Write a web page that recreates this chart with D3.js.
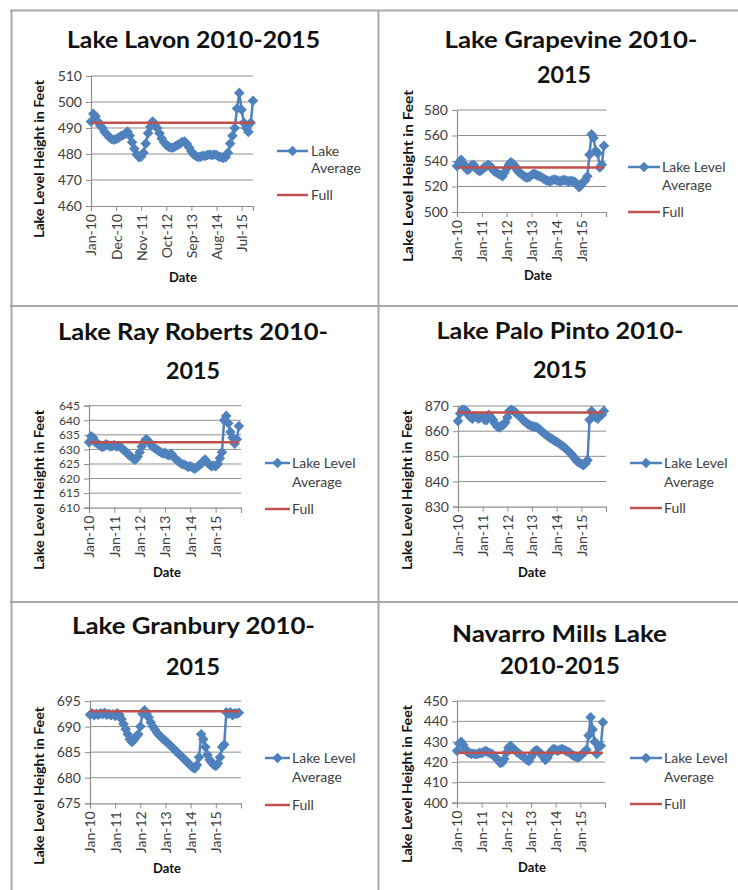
<!DOCTYPE html>
<html>
<head>
<meta charset="utf-8">
<script src="https://cdn.jsdelivr.net/npm/d3@7"></script>
<style>
body { margin: 0; background: #fff; }
svg { display: block; font-family: Lato, "Open Sans", sans-serif; }
</style>
</head>
<body>
<svg id="chart" width="738" height="890"></svg>
<script>
// ---- data (monthly averages, Jan 2010 - Dec 2015) ----
var titles = [
    ["Lake Lavon 2010-2015"],
    ["Lake Grapevine 2010-", "2015"],
    ["Lake Ray Roberts 2010-", "2015"],
    ["Lake Palo Pinto 2010-", "2015"],
    ["Lake Granbury 2010-", "2015"],
    ["Navarro Mills Lake", "2010-2015"]
];
var legendNames = [["Lake", "Average"], ["Lake Level", "Average"], ["Lake Level", "Average"],
                   ["Lake Level", "Average"], ["Lake Level", "Average"], ["Lake Level", "Average"]];
var fullName = "Full";
var yTitle = "Lake Level Height in Feet";
var xTitle = "Date";

var fullLevels = [492, 535, 632.5, 867.4, 693, 424.5];

var yTicks = [
    [460, 470, 480, 490, 500, 510],
    [500, 520, 540, 560, 580],
    [610, 615, 620, 625, 630, 635, 640, 645],
    [830, 840, 850, 860, 870],
    [675, 680, 685, 690, 695],
    [400, 410, 420, 430, 440, 450]
];
var lavonTicks = ["Jan-10", "Dec-10", "Nov-11", "Oct-12", "Sep-13", "Aug-14", "Jul-15"];
var yearTicks = ["Jan-10", "Jan-11", "Jan-12", "Jan-13", "Jan-14", "Jan-15", ""];

var lavon = [492.5, 495.5, 494.5, 492.5, 491, 490, 488.5, 487.5, 486.5, 485.8, 485.5, 485.8,
             486.2, 486.8, 487.2, 487.8, 488.6, 487, 484.5, 482, 479.8, 478.8, 479, 480.5,
             484, 488, 490.5, 492.5, 491.5, 490, 488, 486, 484.5, 483.5, 482.8, 482.5,
             482.4, 483, 483.5, 484, 484.6, 484.8, 483.8, 482.5, 481, 479.8, 479.2, 478.8,
             479, 479.3, 479.2, 479.6, 479.8, 479.5, 479.8, 479.6, 479, 478.8, 478.5, 478.8,
             480.5, 484, 487, 490, 497.5, 503.5, 497, 492, 490, 488.5, 492, 500.5];
var grapevine = [536, 539, 541, 538, 535, 533, 534, 536.5, 537, 534.5, 533, 532,
                 533, 535, 535.5, 537, 536, 534, 532, 531, 530, 529, 528, 531,
                 534, 537, 539, 538, 536, 533, 531, 530, 528.5, 527.5, 527, 527.5,
                 529, 530, 529.5, 528.5, 528, 527, 526, 525, 524.5, 524, 525, 525.5,
                 525, 524.5, 524, 525, 525, 524.5, 524, 524.5, 524, 523.5, 522, 519.5,
                 521, 523.5, 525, 528, 545, 561, 558, 548, 546, 535, 537, 552];
var rayRoberts = [632.5, 634.5, 634, 632.5, 632, 631.5, 630.8, 631, 631.8, 631.5, 631, 631.2,
                  631.5, 631, 631.2, 630.8, 630, 629.5, 628.8, 628, 627.5, 626.8, 626.5, 627.5,
                  629, 631, 632.5, 633.5, 633, 632, 631, 630.5, 630, 629.5, 629, 628.6,
                  628.8, 628.2, 628, 628.5, 627.5, 626.8, 626, 625.5, 625, 624.8, 624.5, 624,
                  624.2, 623.8, 623.4, 623.8, 624.5, 625, 625.8, 626.5, 625.5, 624.8, 624.2, 624.5,
                  624.2, 625, 627, 629, 640, 641.5, 639, 636, 634, 632, 633.5, 638];
var paloPinto = [864, 867, 868.5, 868.5, 868, 866.5, 865.5, 865, 866, 865.5, 865, 865.5,
                 865.5, 864.5, 864.5, 866.5, 865.5, 864.5, 863, 862, 861.5, 862, 862.5, 863.5,
                 865.5, 868, 868.5, 868, 867.5, 866.5, 866, 865, 864.2, 863.5, 862.8, 862.3,
                 862, 861.8, 861.6, 861.2, 860.5, 859.8, 859, 858.5, 857.8, 857.2, 856.8, 856.2,
                 855.8, 855.2, 854.6, 854, 853.4, 852.6, 851.8, 851, 850, 849, 848, 847.5,
                 847, 846.5, 847.2, 848.5, 864.5, 868, 866.5, 865.5, 865, 866, 866.5, 868];
var granbury = [692.3, 692.6, 692.2, 692.5, 692.3, 692.6, 692.4, 692.7, 692.3, 692.5, 692.2, 692.4,
                692.1, 692.6, 692.3, 691.5, 690.5, 689.5, 688.5, 687.5, 687, 687.4, 688, 688.5,
                690, 692.5, 693.2, 692.5, 691.8, 690.8, 690, 689.4, 688.8, 688.3, 687.9, 687.5,
                687.2, 686.8, 686.4, 686, 685.6, 685.2, 684.8, 684.4, 684, 683.6, 683.2, 682.8,
                682.4, 682, 681.8, 682.5, 684, 688.5, 687.5, 686, 684.5, 683.5, 683, 682.5,
                682.3, 682.8, 684, 686, 686.5, 692.8, 692.5, 692.8, 692.2, 692.6, 692.5, 692.7];
var navarroMills = [425.5, 429, 430, 428.5, 426.5, 425, 424.5, 424, 424.2, 423.8, 424, 424.5,
                    424.3, 425, 425.5, 424.8, 424.3, 424, 423, 422, 421, 419.5, 419.8, 421.5,
                    424.5, 427, 428, 427, 426, 425, 424.3, 423.5, 422.8, 422, 421, 420.5,
                    422.5, 424, 425.5, 425.8, 424.8, 424, 422.5, 421, 422, 424, 425.5, 426.5,
                    426, 425.5, 426, 426.5, 426, 425.5, 425, 424.5, 423.5, 423, 422.5, 422.3,
                    423, 424, 425, 426, 433, 442, 436, 430, 424, 427.5, 428, 439.5];

var series = [lavon, grapevine, rayRoberts, paloPinto, granbury, navarroMills];

// ---- layout (page pixels) ----
var panels = [
    { x0: 91, x1: 253, xMax: 71, xTickVals: [0, 11, 22, 33, 44, 55, 66], labels: lavonTicks,
      top: 76, bottom: 206, tickFont: 14,
      title: [{ x: 193.5, y: 48, w: 253 }],
      yt: { x: 39, y: 159, len: 158 }, dt: { x: 183, y: 277 },
      lg: { x1: 277, x2: 308, y1: 151, y2: 168, yf: 195, tx: 311 } },
    { x0: 457, x1: 606, xMax: 72, xTickVals: [0, 12, 24, 36, 48, 60, 72], labels: yearTicks,
      top: 110, bottom: 212, tickFont: 14,
      title: [{ x: 571, y: 48, w: 253 }, { x: 564, y: 83, w: 54 }],
      yt: { x: 408, y: 176, len: 172 }, dt: { x: 538, y: 275 },
      lg: { x1: 628, x2: 660, y1: 167, y2: 185, yf: 212, tx: 662 } },
    { x0: 89, x1: 241, xMax: 72, xTickVals: [0, 12, 24, 36, 48, 60, 72], labels: yearTicks,
      top: 405.7, bottom: 507.7, tickFont: 12,
      title: [{ x: 193, y: 340, w: 270 }, { x: 193, y: 379, w: 54 }],
      yt: { x: 39, y: 490, len: 160 }, dt: { x: 167, y: 572 },
      lg: { x1: 265, x2: 290, y1: 463, y2: 482, yf: 509, tx: 292 } },
    { x0: 458, x1: 606, xMax: 72, xTickVals: [0, 12, 24, 36, 48, 60, 72], labels: yearTicks,
      top: 406, bottom: 506.7, tickFont: 14,
      title: [{ x: 560, y: 339, w: 247 }, { x: 560, y: 378, w: 54 }],
      yt: { x: 407, y: 490, len: 160 }, dt: { x: 532, y: 572 },
      lg: { x1: 630, x2: 662, y1: 463, y2: 482, yf: 508, tx: 664 } },
    { x0: 90, x1: 241, xMax: 72, xTickVals: [0, 12, 24, 36, 48, 60, 72], labels: yearTicks,
      top: 701, bottom: 803.3, tickFont: 14,
      title: [{ x: 193.5, y: 634, w: 243 }, { x: 193, y: 675, w: 54 }],
      yt: { x: 39, y: 786, len: 158 }, dt: { x: 167, y: 868 },
      lg: { x1: 265, x2: 290, y1: 758, y2: 777, yf: 805, tx: 292 } },
    { x0: 457, x1: 605, xMax: 72, xTickVals: [0, 12, 24, 36, 48, 60, 72], labels: yearTicks,
      top: 701, bottom: 802.7, tickFont: 14,
      title: [{ x: 559.5, y: 642, w: 215 }, { x: 560, y: 674, w: 120 }],
      yt: { x: 407, y: 784, len: 158 }, dt: { x: 532, y: 867 },
      lg: { x1: 630, x2: 662, y1: 758, y2: 777, yf: 804, tx: 664 } }
];

var blue = "#4f81bd", red = "#c0504d", grid = "#8e8e8e", ink = "#404040";

var diamond = {
    draw: function(ctx, size) {
        var r = Math.sqrt(size / 2);
        ctx.moveTo(0, -r); ctx.lineTo(r, 0); ctx.lineTo(0, r); ctx.lineTo(-r, 0); ctx.closePath();
    }
};
var marker = d3.symbol().type(diamond).size(56);

var svg = d3.select("#chart");

// table borders
var border = svg.append("g").attr("stroke", "#a9a9a9").attr("stroke-width", 2);
border.append("line").attr("x1", 10).attr("x2", 738).attr("y1", 10.5).attr("y2", 10.5);
border.append("line").attr("x1", 11.5).attr("x2", 11.5).attr("y1", 10).attr("y2", 890);
border.append("line").attr("x1", 378.5).attr("x2", 378.5).attr("y1", 10).attr("y2", 890);
border.append("line").attr("x1", 10).attr("x2", 738).attr("y1", 306).attr("y2", 306);
border.append("line").attr("x1", 10).attr("x2", 738).attr("y1", 602).attr("y2", 602);

panels.forEach(function(p, k) {
    var values = series[k];
    var ticks = yTicks[k];
    var g = svg.append("g");

    var x = d3.scaleLinear().domain([0, p.xMax]).range([p.x0, p.x1]);
    var y = d3.scaleLinear().domain([ticks[0], ticks[ticks.length - 1]]).range([p.bottom, p.top]);

    // gridlines
    g.append("g").selectAll("line").data(ticks.slice(1)).join("line")
        .attr("x1", p.x0).attr("x2", p.x1)
        .attr("y1", function(d) { return y(d); }).attr("y2", function(d) { return y(d); })
        .attr("stroke", grid).attr("stroke-width", 1);

    // y axis
    var ya = g.append("g").attr("transform", "translate(" + p.x0 + ",0)")
        .call(d3.axisLeft(y).tickValues(ticks).tickSizeOuter(0).tickSize(5).tickPadding(4));
    // x axis
    var xa = g.append("g").attr("transform", "translate(0," + p.bottom + ")")
        .call(d3.axisBottom(x).tickValues(p.xTickVals).tickSizeOuter(0).tickSize(5)
              .tickFormat(function(d, i) { return p.labels[i]; }));
    [ya, xa].forEach(function(a) {
        a.select(".domain").attr("stroke", grid).attr("stroke-width", 1.2);
        a.selectAll(".tick line").attr("stroke", grid);
        a.selectAll("text").attr("fill", ink).style("font-family", "Lato, sans-serif");
    });
    ya.selectAll("text").style("font-size", p.tickFont + "px");
    xa.selectAll("text").style("font-size", "14px")
        .attr("transform", "rotate(-90)")
        .attr("text-anchor", "end")
        .attr("x", -8).attr("y", 0).attr("dy", "0.35em");

    // lake level series
    var line = d3.line().x(function(d, i) { return x(i); }).y(function(d) { return y(d); });
    g.append("path").datum(values).attr("d", line)
        .attr("fill", "none").attr("stroke", blue).attr("stroke-width", 2.5);
    g.append("g").selectAll("path").data(values).join("path")
        .attr("transform", function(d, i) { return "translate(" + x(i) + "," + y(d) + ")"; })
        .attr("d", marker).attr("fill", blue);

    // full level
    g.append("line")
        .attr("x1", x(0)).attr("x2", x(values.length - 1))
        .attr("y1", y(fullLevels[k])).attr("y2", y(fullLevels[k]))
        .attr("stroke", red).attr("stroke-width", 2.5);

    // titles
    titles[k].forEach(function(t, j) {
        var pos = p.title[j];
        g.append("text").text(t)
            .attr("x", pos.x).attr("y", pos.y)
            .attr("text-anchor", "middle")
            .attr("textLength", pos.w).attr("lengthAdjust", "spacingAndGlyphs")
            .style("font-size", "23px").style("font-weight", "bold").attr("fill", "#111");
    });

    g.append("text").text(yTitle)
        .attr("transform", "translate(" + p.yt.x + "," + p.yt.y + ") rotate(-90)")
        .attr("text-anchor", "middle").attr("dy", "0.35em")
        .attr("textLength", p.yt.len).attr("lengthAdjust", "spacingAndGlyphs")
        .style("font-size", "13px").style("font-weight", "bold").attr("fill", "#111");

    g.append("text").text(xTitle)
        .attr("x", p.dt.x).attr("y", p.dt.y).attr("dy", "0.35em")
        .attr("text-anchor", "middle")
        .style("font-size", "13px").style("font-weight", "bold").attr("fill", "#111");

    // legend
    var lg = p.lg;
    g.append("line").attr("x1", lg.x1).attr("x2", lg.x2).attr("y1", lg.y1).attr("y2", lg.y1)
        .attr("stroke", blue).attr("stroke-width", 2.5);
    g.append("path").attr("transform", "translate(" + ((lg.x1 + lg.x2) / 2) + "," + lg.y1 + ")")
        .attr("d", marker).attr("fill", blue);
    g.append("line").attr("x1", lg.x1).attr("x2", lg.x2).attr("y1", lg.yf).attr("y2", lg.yf)
        .attr("stroke", red).attr("stroke-width", 2.5);
    [[legendNames[k][0], lg.y1], [legendNames[k][1], lg.y2], [fullName, lg.yf]].forEach(function(e) {
        g.append("text").text(e[0])
            .attr("x", lg.tx).attr("y", e[1]).attr("dy", "0.35em")
            .style("font-size", "14px").attr("fill", ink);
    });
});
</script>
</body>
</html>
